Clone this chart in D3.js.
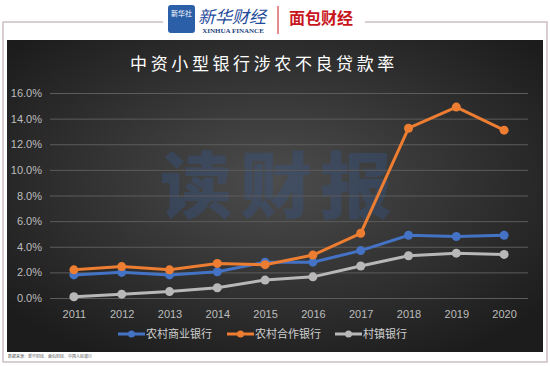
<!DOCTYPE html>
<html>
<head>
<meta charset="utf-8">
<script src="https://cdn.jsdelivr.net/npm/d3@7"></script>
<style>
  body { margin: 0; background: #fff; }
  svg { display: block; font-family: "Noto Sans CJK SC", "Noto Sans", sans-serif; }
</style>
</head>
<body>
<script>
// data
var years = ["2011", "2012", "2013", "2014", "2015", "2016", "2017", "2018", "2019", "2020"];
var ruralCommercial = [1.8, 2.0, 1.8, 2.05, 2.8, 2.8, 3.7, 4.9, 4.8, 4.9];
var ruralCooperative = [2.2, 2.45, 2.2, 2.7, 2.6, 3.35, 5.05, 13.25, 14.9, 13.1];
var villageBanks = [0.1, 0.3, 0.5, 0.8, 1.4, 1.65, 2.5, 3.3, 3.5, 3.4];
var yTicks = [0, 2, 4, 6, 8, 10, 12, 14, 16];

var series = [
  { name: "农村商业银行", values: ruralCommercial, color: "#4472c4" },
  { name: "农村合作银行", values: ruralCooperative, color: "#ed7d31" },
  { name: "村镇银行", values: villageBanks, color: "#b8b8b8" }
];

var width = 550, height = 366;
var svg = d3.select("body").append("svg")
  .attr("width", width)
  .attr("height", height);

var defs = svg.append("defs");
var grad = defs.append("radialGradient")
  .attr("id", "bg")
  .attr("cx", "50%").attr("cy", "45%").attr("r", "65%");
grad.append("stop").attr("offset", "0%").attr("stop-color", "#4c4c4c");
grad.append("stop").attr("offset", "100%").attr("stop-color", "#1c1c1c");

// outer frame
svg.append("path")
  .attr("d", "M163,22 H3 V362 H547 V22 H365")
  .attr("fill", "none")
  .attr("stroke", "#cdbfc6")
  .attr("stroke-width", 1.5);

// header logos
svg.append("rect")
  .attr("x", 168).attr("y", 5).attr("width", 27).attr("height", 28).attr("rx", 3)
  .attr("fill", "#2b5fa8");
svg.append("text")
  .attr("x", 181.5).attr("y", 16).attr("text-anchor", "middle")
  .attr("font-size", 7).attr("fill", "#fff").text("新华社");
svg.append("text")
  .attr("x", 232).attr("y", 23).attr("text-anchor", "middle")
  .attr("font-size", 17).attr("font-style", "italic").attr("fill", "#1f4a9a")
  .text("新华财经");
svg.append("text")
  .attr("x", 233).attr("y", 33).attr("text-anchor", "middle")
  .attr("font-family", "Liberation Serif").attr("font-weight", "bold")
  .attr("font-size", 7).attr("fill", "#1f3f80").text("XINHUA FINANCE");
svg.append("line")
  .attr("x1", 278).attr("x2", 278).attr("y1", 6).attr("y2", 34)
  .attr("stroke", "#c8161d").attr("stroke-width", 1);
svg.append("text")
  .attr("x", 321).attr("y", 24).attr("text-anchor", "middle")
  .attr("font-size", 16).attr("font-weight", "bold").attr("fill", "#c8161d")
  .text("面包财经");

// dark panel
svg.append("rect")
  .attr("x", 7).attr("y", 40).attr("width", 536).attr("height", 312)
  .attr("fill", "url(#bg)");

svg.append("text")
  .attr("x", 264).attr("y", 70).attr("text-anchor", "middle")
  .attr("font-size", 17).attr("letter-spacing", 3.6).attr("fill", "#fff")
  .text("中资小型银行涉农不良贷款率");

// watermark
svg.append("text")
  .attr("x", 280).attr("y", 212).attr("text-anchor", "middle")
  .attr("font-size", 72).attr("font-weight", "900").attr("letter-spacing", 8)
  .attr("fill", "#34558c").attr("opacity", 0.35)
  .text("读财报");

var x = d3.scalePoint().domain(years).range([50, 528]).padding(0.5);
var y = d3.scaleLinear().domain([0, 16]).range([298, 93]);

var g = svg.append("g");

// gridlines
g.append("g")
  .call(d3.axisLeft(y).tickValues(yTicks).tickSize(-478).tickFormat(function(d) { return d.toFixed(1) + "%"; }))
  .attr("transform", "translate(50,0)")
  .call(function(a) {
    a.select(".domain").remove();
    a.selectAll(".tick line").attr("stroke", "#5c5c5c").attr("stroke-width", 1);
    a.selectAll(".tick text").attr("x", -8).attr("fill", "#bdbdbd")
      .attr("font-size", 11).attr("font-family", "Liberation Sans, Arial, sans-serif");
  });

g.append("g")
  .attr("transform", "translate(0,298)")
  .call(d3.axisBottom(x).tickSize(0).tickPadding(12))
  .call(function(a) {
    a.select(".domain").remove();
    a.selectAll(".tick text").attr("fill", "#bdbdbd")
      .attr("font-size", 11).attr("font-family", "Liberation Sans, Arial, sans-serif");
  });

var line = d3.line()
  .x(function(d, i) { return x(years[i]); })
  .y(function(d) { return y(d); });

series.forEach(function(s) {
  g.append("path")
    .attr("d", line(s.values))
    .attr("fill", "none")
    .attr("stroke", s.color)
    .attr("stroke-width", 3);
  g.selectAll(null)
    .data(s.values)
    .enter().append("circle")
    .attr("cx", function(d, i) { return x(years[i]); })
    .attr("cy", function(d) { return y(d); })
    .attr("r", 4.5)
    .attr("fill", s.color);
});

// legend
var legendX = [118, 227, 335];
var legend = svg.append("g").selectAll("g")
  .data(series)
  .enter().append("g")
  .attr("transform", function(d, i) { return "translate(" + legendX[i] + ",334)"; });
legend.append("line")
  .attr("x1", 0).attr("x2", 27)
  .attr("stroke", function(d) { return d.color; }).attr("stroke-width", 3);
legend.append("circle")
  .attr("cx", 13.5).attr("r", 3.5)
  .attr("fill", function(d) { return d.color; });
legend.append("text")
  .attr("x", 28).attr("y", 4)
  .attr("font-size", 11).attr("fill", "#cfcfcf")
  .text(function(d) { return d.name; });

// source note
svg.append("text")
  .attr("x", 8).attr("y", 358)
  .attr("font-size", 4).attr("fill", "#555")
  .text("数据来源：新华财经、面包财经、中国人民银行");
</script>
</body>
</html>
